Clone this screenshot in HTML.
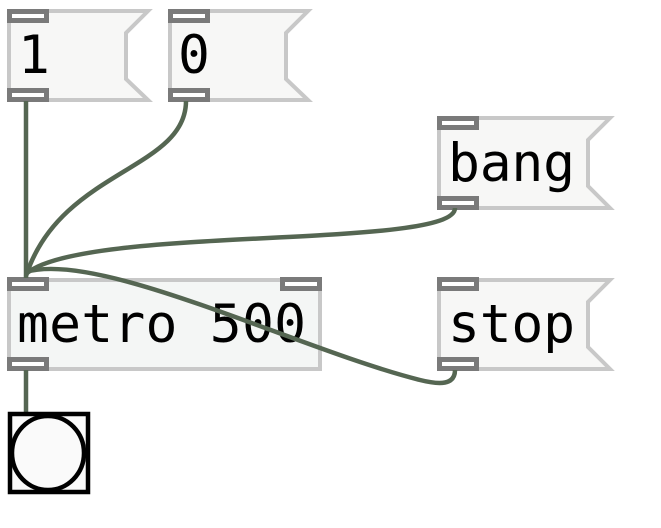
<!DOCTYPE html>
<html><head><meta charset="utf-8"><style>
html,body{margin:0;padding:0;background:#fff;width:661px;height:528px;overflow:hidden}
text{font-family:"DejaVu Sans Mono","Liberation Mono",monospace;font-size:53px;fill:#000}
</style></head><body>
<svg width="661" height="528" viewBox="0 0 661 528" xmlns="http://www.w3.org/2000/svg">
<g fill="#f7f7f6" stroke="#c8c8c8" stroke-width="4">
<path d="M9,11 L148,11 L126,33 L126,79 L148,100 L9,100 Z"/>
<path d="M170,11 L308,11 L286,33 L286,79 L308,100 L170,100 Z"/>
<path d="M439,118 L610,118 L588,140 L588,186 L610,208 L439,208 Z"/>
<rect x="9" y="280" width="311" height="89" fill="#f4f6f5"/>
<path d="M439,280 L610,280 L588,302 L588,347 L610,369 L439,369 Z"/>
</g>
<g fill="#fff" stroke="#7a7a7a" stroke-width="5">
<rect x="9.5" y="11.5" width="37" height="9"/><rect x="9.5" y="90.5" width="37" height="9"/>
<rect x="170.5" y="11.5" width="37" height="9"/><rect x="170.5" y="90.5" width="37" height="9"/>
<rect x="439.5" y="118.5" width="37" height="9"/><rect x="439.5" y="198.5" width="37" height="9"/>
<rect x="9.5" y="279.5" width="37" height="9"/><rect x="282.5" y="279.5" width="37" height="9"/><rect x="9.5" y="359.5" width="37" height="9"/>
<rect x="439.5" y="279.5" width="37" height="9"/><rect x="439.5" y="359.5" width="37" height="9"/>
</g>
<text x="18" y="73">1</text>
<text x="178" y="73">0</text>
<text x="448" y="181" textLength="127">bang</text>
<text x="448" y="342" textLength="127">stop</text>
<text x="17" y="342" textLength="289">metro 500</text>
<g fill="none" stroke="#556652" stroke-width="4.5">
<path d="M26,101 L26,278"/>
<path d="M186,101 C186,170 60,170 26,276"/>
<path d="M455,208 C455,250 80,225 26,274"/>
<path d="M455,370 C455,385 440,385 420,380 C300,350 100,250 26,272"/>
<path d="M26,370 L26,412"/>
</g>
<rect x="10" y="414" width="78" height="78" fill="#fafafa" stroke="#000" stroke-width="4.5"/>
<ellipse cx="48" cy="453" rx="36" ry="37" fill="none" stroke="#000" stroke-width="4.5"/>
</svg>
</body></html>
